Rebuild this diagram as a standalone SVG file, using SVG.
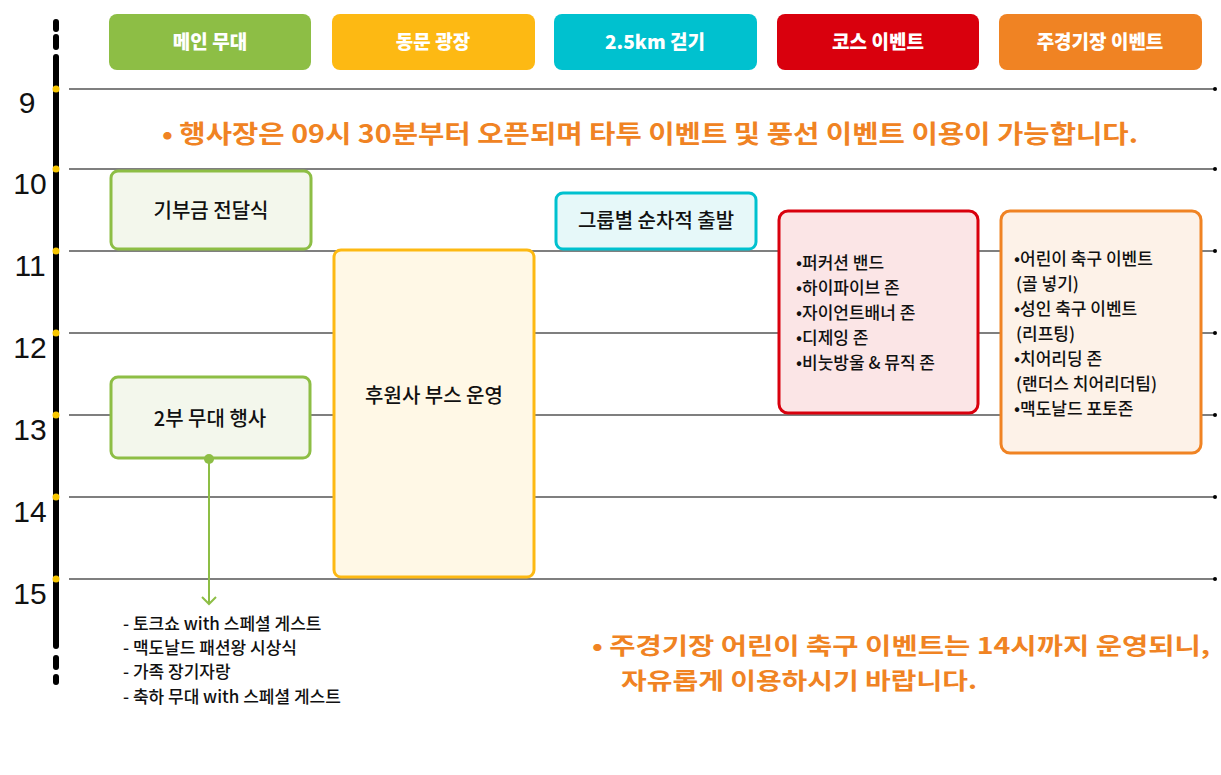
<svg xmlns="http://www.w3.org/2000/svg" width="1221" height="775" viewBox="0 0 1221 775">
<style>
text{font-family:"Noto Sans CJK KR","Noto Sans",sans-serif}
.hd{fill:#fff;font-size:19px;font-weight:900;text-anchor:middle}
.hl{stroke:#000;stroke-width:1.2}
.nb{font-size:20px;font-weight:500;fill:#111;text-anchor:middle}
.sm{font-size:17px;font-weight:500;fill:#111}
.hr{font-size:30px;font-weight:500;fill:#111;text-anchor:middle;font-family:"Liberation Sans",sans-serif}
.or{font-size:25px;font-weight:700;fill:#F08323}
.or2{font-size:23px;font-weight:700;fill:#F08323}
</style>
<rect width="1221" height="775" fill="#fff"/>
<g id="axis">
<line x1="56" y1="22" x2="56" y2="29" stroke="#000" stroke-width="6" stroke-linecap="round"/>
<line x1="56" y1="37" x2="56" y2="47" stroke="#000" stroke-width="6" stroke-linecap="round"/>
<line x1="56" y1="57" x2="56" y2="646" stroke="#000" stroke-width="6" stroke-linecap="round"/>
<line x1="56" y1="658" x2="56" y2="667" stroke="#000" stroke-width="6" stroke-linecap="round"/>
<line x1="56" y1="677" x2="56" y2="682" stroke="#000" stroke-width="6" stroke-linecap="round"/>
<g fill="#F7C600"><circle cx="56" cy="89" r="3.5"/><circle cx="56" cy="169" r="3.5"/><circle cx="56" cy="251" r="3.5"/><circle cx="56" cy="333" r="3.5"/><circle cx="56" cy="415" r="3.5"/><circle cx="56" cy="497" r="3.5"/><circle cx="56" cy="579" r="3.5"/></g>
<text class="hr" x="27" y="113">9</text><text class="hr" x="30" y="194">10</text><text class="hr" x="30" y="276">11</text><text class="hr" x="30" y="358">12</text><text class="hr" x="30" y="440">13</text><text class="hr" x="30" y="522">14</text><text class="hr" x="30" y="604">15</text>
</g>
<g id="gridlines">
<line class="hl" x1="69" y1="89" x2="1215" y2="89"/><line class="hl" x1="69" y1="169" x2="1215" y2="169"/><line class="hl" x1="69" y1="251" x2="1215" y2="251"/><line class="hl" x1="69" y1="333" x2="1215" y2="333"/><line class="hl" x1="69" y1="415" x2="1215" y2="415"/><line class="hl" x1="69" y1="497" x2="1215" y2="497"/><line class="hl" x1="69" y1="579" x2="1215" y2="579"/>
<g fill="#000"><circle cx="1215" cy="89" r="2"/><circle cx="1215" cy="169" r="2"/><circle cx="1215" cy="251" r="2"/><circle cx="1215" cy="333" r="2"/><circle cx="1215" cy="415" r="2"/><circle cx="1215" cy="497" r="2"/><circle cx="1215" cy="579" r="2"/></g>
</g>
<g id="h1"><rect x="109" y="14" width="202" height="56" rx="8" fill="#8DBE45"/><text class="hd" x="210" y="49">메인 무대</text></g>
<g id="h2"><rect x="332" y="14" width="203" height="56" rx="8" fill="#FDB913"/><text class="hd" x="433" y="49">동문 광장</text></g>
<g id="h3"><rect x="554" y="14" width="203" height="56" rx="8" fill="#00C1CF"/><text class="hd" x="655" y="49">2.5km 걷기</text></g>
<g id="h4"><rect x="777" y="14" width="202" height="56" rx="8" fill="#D9000D"/><text class="hd" x="878" y="49">코스 이벤트</text></g>
<g id="h5"><rect x="999" y="14" width="203" height="56" rx="8" fill="#F08323"/><text class="hd" x="1100" y="49">주경기장 이벤트</text></g>
<g id="note1"><text class="or" x="162" y="143" textLength="976" lengthAdjust="spacingAndGlyphs">•  행사장은 09시 30분부터 오픈되며 타투 이벤트 및 풍선 이벤트 이용이 가능합니다.</text></g>
<g id="n1"><rect x="111" y="171" width="200" height="78" rx="7" fill="#F3F7EC" stroke="#8DBE45" stroke-width="3"/><text class="nb" x="211" y="218">기부금 전달식</text></g>
<g id="n2"><rect x="111" y="377" width="199" height="81" rx="7" fill="#F3F7EC" stroke="#8DBE45" stroke-width="3"/><text class="nb" x="210" y="426">2부 무대 행사</text></g>
<g id="n3"><rect x="334" y="250" width="200" height="327" rx="7" fill="#FFF8E6" stroke="#FDB913" stroke-width="3"/><text class="nb" x="434" y="403">후원사 부스 운영</text></g>
<g id="n4"><rect x="556" y="193" width="200" height="56" rx="7" fill="#E6F8F9" stroke="#00C1CF" stroke-width="3"/><text class="nb" x="656" y="228">그룹별 순차적 출발</text></g>
<g id="n5"><rect x="779" y="211" width="199" height="202" rx="9" fill="#FBE5E6" stroke="#D9000D" stroke-width="3"/>
<text class="sm" x="796" y="269">•퍼커션 밴드</text><text class="sm" x="796" y="294">•하이파이브 존</text><text class="sm" x="796" y="319">•자이언트배너 존</text><text class="sm" x="796" y="344">•디제잉 존</text><text class="sm" x="796" y="369">•비눗방울 &amp; 뮤직 존</text></g>
<g id="n6"><rect x="1001" y="211" width="200" height="242" rx="9" fill="#FDF2E8" stroke="#F08323" stroke-width="3"/>
<text class="sm" x="1014" y="265">•어린이 축구 이벤트</text><text class="sm" x="1016" y="290">(골 넣기)</text><text class="sm" x="1014" y="315">•성인 축구 이벤트</text><text class="sm" x="1016" y="340">(리프팅)</text><text class="sm" x="1014" y="365">•치어리딩 존</text><text class="sm" x="1016" y="390">(랜더스 치어리더팀)</text><text class="sm" x="1014" y="415">•맥도날드 포토존</text></g>
<g id="connectors">
<circle cx="209" cy="459" r="5" fill="#8DBE45"/>
<line x1="209" y1="459" x2="209" y2="603" stroke="#8DBE45" stroke-width="2"/>
<polyline points="202,597 209,604 216,597" fill="none" stroke="#8DBE45" stroke-width="2"/>
</g>
<g id="list"><text class="sm" x="123" y="630">- 토크쇼 with 스페셜 게스트</text><text class="sm" x="123" y="654">- 맥도날드 패션왕 시상식</text><text class="sm" x="123" y="678">- 가족 장기자랑</text><text class="sm" x="123" y="703">- 축하 무대 with 스페셜 게스트</text></g>
<g id="note2"><text class="or2" x="592" y="654" textLength="618" lengthAdjust="spacingAndGlyphs">•  주경기장 어린이 축구 이벤트는 14시까지 운영되니,</text><text class="or2" x="621" y="689" textLength="356" lengthAdjust="spacingAndGlyphs">자유롭게 이용하시기 바랍니다.</text></g>
</svg>
